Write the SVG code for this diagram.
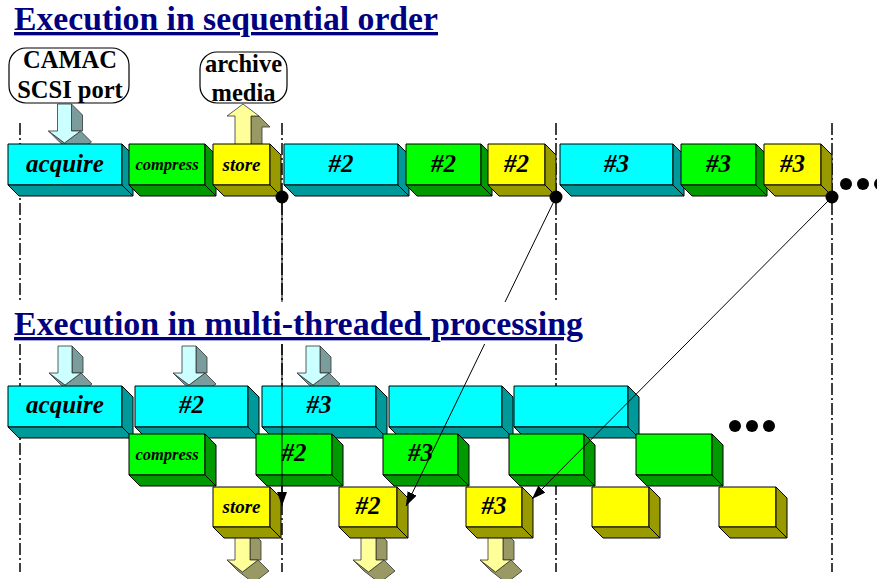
<svg xmlns="http://www.w3.org/2000/svg" xmlns:xlink="http://www.w3.org/1999/xlink" width="877" height="579" viewBox="0 0 877 579">
  <style>
    .face { stroke: #000; stroke-width: 1; stroke-linejoin: round; }
    .cy { fill: #00ffff; } .cyd { fill: #009999; }
    .gr { fill: #00ff00; } .grd { fill: #009900; }
    .ye { fill: #ffff00; } .yed { fill: #999900; }
    .lbl { font-family: "Liberation Serif", "Times New Roman", serif; font-weight: bold; font-style: italic; text-anchor: middle; fill: #000; }
    .big { font-size: 25px; }
    .cmp { font-size: 16.5px; }
    .sto { font-size: 19px; }
    .head { font-family: "Liberation Serif", "Times New Roman", serif; font-weight: bold; font-size: 33.5px; fill: #000080; text-decoration: underline; }
    .tag { font-family: "Liberation Serif", "Times New Roman", serif; font-weight: bold; font-size: 24.5px; text-anchor: middle; fill: #000; }
    .bubble { fill: #fff; stroke: #000; stroke-width: 1.2; }
    .tl { fill: none; stroke: #000; stroke-width: 1.5; stroke-dasharray: 12 3 2 3; }
    .conn { fill: none; stroke: #000; stroke-width: 1; }
    .af { stroke: #333; stroke-width: 0.8; stroke-linejoin: round; }
    .cyl { fill: #ccffff; } .cyk { fill: #7a9c9c; }
    .yel { fill: #ffff99; } .yek { fill: #999966; }
  </style>
  <defs>
    <marker id="tip" markerWidth="14" markerHeight="10" refX="14" refY="5" orient="auto" markerUnits="userSpaceOnUse">
      <path d="M0,0 L14,5 L0,10 Z" fill="#000"/>
    </marker>
    <!-- input arrow (data coming in), drawn with its shaft's top-left corner at 0,0 -->
    <g id="inArrow">
      <polygon class="af cyk" points="14,0 25,11 25,27 14,27"/>
      <polygon class="af cyk" points="23,27 34,38 18,50 2,38 -9,27 7,39"/>
      <polygon class="af cyl" points="0,0 14,0 14,27 23,27 7,39 -9,27 0,27"/>
    </g>
    <!-- output arrow (data written out) -->
    <g id="outArrow">
      <polygon class="af yek" points="15,0 26,11 26,30 15,30"/>
      <polygon class="af yek" points="23,30 34,41 18.5,53 3,41 -8,30 7.5,42"/>
      <polygon class="af yel" points="0,0 15,0 15,30 23,30 7.5,42 -8,30 0,30"/>
    </g>
  </defs>

  <rect width="877" height="579" fill="#fff"/>

  <!-- time markers -->
  <g id="timelines">
    <line class="tl" x1="20" y1="123" x2="20" y2="572"/>
    <line class="tl" x1="282" y1="123" x2="282" y2="572"/>
    <line class="tl" x1="556" y1="123" x2="556" y2="572"/>
    <line class="tl" x1="832" y1="123" x2="832" y2="572"/>
  </g>

  <!-- title of the sequential part -->
  <text class="head" x="14" y="30" textLength="424" lengthAdjust="spacingAndGlyphs">Execution in sequential order</text>

  <!-- I/O endpoints -->
  <g id="camac">
    <rect class="bubble" x="9" y="48" width="120" height="55" rx="17"/>
    <text class="tag" x="70" y="68">CAMAC</text>
    <text class="tag" x="70" y="98">SCSI port</text>
  </g>
  <g id="archive">
    <rect class="bubble" x="200" y="52" width="87" height="51" rx="17"/>
    <text class="tag" x="243.5" y="72">archive</text>
    <text class="tag" x="243.5" y="101">media</text>
  </g>

  <!-- transfer arrows of the sequential run -->
  <g id="seq-in"><use xlink:href="#inArrow" transform="translate(57.5,104)"/></g>
  <g id="seq-out">
    <polygon class="af yek" points="259,116 270,127 262,127 262,161 251,150 251,116"/>
    <polygon class="af yel" points="243,104 259,116 251,116 251,150 235,150 235,116 227,116"/>
  </g>

  <!-- sequential run: one step after the other -->
  <g id="s-acquire">
    <rect class="face cy" x="8" y="144" width="114" height="41"/>
    <polygon class="face cyd" points="122,144 133,155 133,196 122,185"/>
    <polygon class="face cyd" points="8,185 122,185 133,196 19,196"/>
    <text class="lbl big" x="65" y="172">acquire</text>
  </g>
  <g id="s-compress">
    <rect class="face gr" x="129" y="144" width="76" height="41"/>
    <polygon class="face grd" points="205,144 216,155 216,196 205,185"/>
    <polygon class="face grd" points="129,185 205,185 216,196 140,196"/>
    <text class="lbl cmp" x="167" y="170">compress</text>
  </g>
  <g id="s-store">
    <rect class="face ye" x="213" y="144" width="57" height="41"/>
    <polygon class="face yed" points="270,144 281,155 281,196 270,185"/>
    <polygon class="face yed" points="213,185 270,185 281,196 224,196"/>
    <text class="lbl sto" x="241.5" y="171">store</text>
  </g>
  <g id="s-acquire2">
    <rect class="face cy" x="284" y="144" width="114" height="41"/>
    <polygon class="face cyd" points="398,144 409,155 409,196 398,185"/>
    <polygon class="face cyd" points="284,185 398,185 409,196 295,196"/>
    <text class="lbl big" x="341" y="172">#2</text>
  </g>
  <g id="s-compress2">
    <rect class="face gr" x="406" y="144" width="75" height="41"/>
    <polygon class="face grd" points="481,144 492,155 492,196 481,185"/>
    <polygon class="face grd" points="406,185 481,185 492,196 417,196"/>
    <text class="lbl big" x="443.5" y="172">#2</text>
  </g>
  <g id="s-store2">
    <rect class="face ye" x="488" y="144" width="57" height="41"/>
    <polygon class="face yed" points="545,144 556,155 556,196 545,185"/>
    <polygon class="face yed" points="488,185 545,185 556,196 499,196"/>
    <text class="lbl big" x="516.5" y="172">#2</text>
  </g>
  <g id="s-acquire3">
    <rect class="face cy" x="560" y="144" width="113" height="41"/>
    <polygon class="face cyd" points="673,144 684,155 684,196 673,185"/>
    <polygon class="face cyd" points="560,185 673,185 684,196 571,196"/>
    <text class="lbl big" x="616.5" y="172">#3</text>
  </g>
  <g id="s-compress3">
    <rect class="face gr" x="681" y="144" width="75" height="41"/>
    <polygon class="face grd" points="756,144 767,155 767,196 756,185"/>
    <polygon class="face grd" points="681,185 756,185 767,196 692,196"/>
    <text class="lbl big" x="718.5" y="172">#3</text>
  </g>
  <g id="s-store3">
    <rect class="face ye" x="764" y="144" width="57" height="41"/>
    <polygon class="face yed" points="821,144 832,155 832,196 821,185"/>
    <polygon class="face yed" points="764,185 821,185 832,196 775,196"/>
    <text class="lbl big" x="792.5" y="172">#3</text>
  </g>
  <g id="s-more" fill="#000">
    <circle cx="846" cy="184" r="6"/>
    <circle cx="863" cy="184" r="6"/>
    <circle cx="880" cy="184" r="6"/>
  </g>

  <!-- transfer arrows of the threaded run -->
  <g id="m-in">
    <use xlink:href="#inArrow" transform="translate(58,346)"/>
    <use xlink:href="#inArrow" transform="translate(182,346)"/>
    <use xlink:href="#inArrow" transform="translate(306,346)"/>
  </g>
  <g id="m-out">
    <use xlink:href="#outArrow" transform="translate(235,530)"/>
    <use xlink:href="#outArrow" transform="translate(361,530)"/>
    <use xlink:href="#outArrow" transform="translate(488,530)"/>
  </g>

  <!-- threaded run: acquisition thread -->
  <g id="m-acquire">
    <rect class="face cy" x="8" y="386" width="114" height="41"/>
    <polygon class="face cyd" points="122,386 133,397 133,438 122,427"/>
    <polygon class="face cyd" points="8,427 122,427 133,438 19,438"/>
    <text class="lbl big" x="65" y="413">acquire</text>
  </g>
  <g id="m-acquire2">
    <rect class="face cy" x="135" y="386" width="113" height="41"/>
    <polygon class="face cyd" points="248,386 259,397 259,438 248,427"/>
    <polygon class="face cyd" points="135,427 248,427 259,438 146,438"/>
    <text class="lbl big" x="191.5" y="413">#2</text>
  </g>
  <g id="m-acquire3">
    <rect class="face cy" x="262" y="386" width="114" height="41"/>
    <polygon class="face cyd" points="376,386 387,397 387,438 376,427"/>
    <polygon class="face cyd" points="262,427 376,427 387,438 273,438"/>
    <text class="lbl big" x="319" y="413">#3</text>
  </g>
  <g id="m-acquire4">
    <rect class="face cy" x="389" y="386" width="113" height="41"/>
    <polygon class="face cyd" points="502,386 513,397 513,438 502,427"/>
    <polygon class="face cyd" points="389,427 502,427 513,438 400,438"/>
  </g>
  <g id="m-acquire5">
    <rect class="face cy" x="514" y="386" width="114" height="41"/>
    <polygon class="face cyd" points="628,386 639,397 639,438 628,427"/>
    <polygon class="face cyd" points="514,427 628,427 639,438 525,438"/>
  </g>

  <!-- threaded run: compression thread -->
  <g id="m-compress">
    <rect class="face gr" x="129" y="434" width="76" height="41"/>
    <polygon class="face grd" points="205,434 216,445 216,486 205,475"/>
    <polygon class="face grd" points="129,475 205,475 216,486 140,486"/>
    <text class="lbl cmp" x="167" y="460">compress</text>
  </g>
  <g id="m-compress2">
    <rect class="face gr" x="256" y="434" width="76" height="41"/>
    <polygon class="face grd" points="332,434 343,445 343,486 332,475"/>
    <polygon class="face grd" points="256,475 332,475 343,486 267,486"/>
    <text class="lbl big" x="294" y="461">#2</text>
  </g>
  <g id="m-compress3">
    <rect class="face gr" x="383" y="434" width="75" height="41"/>
    <polygon class="face grd" points="458,434 469,445 469,486 458,475"/>
    <polygon class="face grd" points="383,475 458,475 469,486 394,486"/>
    <text class="lbl big" x="420.5" y="461">#3</text>
  </g>
  <g id="m-compress4">
    <rect class="face gr" x="509" y="434" width="75" height="41"/>
    <polygon class="face grd" points="584,434 595,445 595,486 584,475"/>
    <polygon class="face grd" points="509,475 584,475 595,486 520,486"/>
  </g>
  <g id="m-compress5">
    <rect class="face gr" x="636" y="434" width="76" height="41"/>
    <polygon class="face grd" points="712,434 723,445 723,486 712,475"/>
    <polygon class="face grd" points="636,475 712,475 723,486 647,486"/>
  </g>

  <!-- threaded run: storage thread -->
  <g id="m-store">
    <rect class="face ye" x="213" y="487" width="57" height="40"/>
    <polygon class="face yed" points="270,487 281,498 281,538 270,527"/>
    <polygon class="face yed" points="213,527 270,527 281,538 224,538"/>
    <text class="lbl sto" x="241.5" y="513">store</text>
  </g>
  <g id="m-store2">
    <rect class="face ye" x="339" y="487" width="58" height="40"/>
    <polygon class="face yed" points="397,487 408,498 408,538 397,527"/>
    <polygon class="face yed" points="339,527 397,527 408,538 350,538"/>
    <text class="lbl big" x="368" y="514">#2</text>
  </g>
  <g id="m-store3">
    <rect class="face ye" x="466" y="487" width="56" height="40"/>
    <polygon class="face yed" points="522,487 533,498 533,538 522,527"/>
    <polygon class="face yed" points="466,527 522,527 533,538 477,538"/>
    <text class="lbl big" x="494" y="514">#3</text>
  </g>
  <g id="m-store4">
    <rect class="face ye" x="592" y="487" width="57" height="40"/>
    <polygon class="face yed" points="649,487 660,498 660,538 649,527"/>
    <polygon class="face yed" points="592,527 649,527 660,538 603,538"/>
  </g>
  <g id="m-store5">
    <rect class="face ye" x="719" y="487" width="57" height="40"/>
    <polygon class="face yed" points="776,487 787,498 787,538 776,527"/>
    <polygon class="face yed" points="719,527 776,527 787,538 730,538"/>
  </g>
  <g id="m-more" fill="#000">
    <circle cx="735" cy="426" r="6"/>
    <circle cx="752" cy="426" r="6"/>
    <circle cx="769" cy="426" r="6"/>
  </g>

  <!-- completion points of the sequential run mapped onto the threaded run -->
  <g id="connectors">
    <line class="conn" x1="282" y1="197" x2="282" y2="506" marker-end="url(#tip)"/>
    <line class="conn" x1="556" y1="197" x2="406" y2="506" marker-end="url(#tip)"/>
    <line class="conn" x1="832" y1="197" x2="532" y2="499" marker-end="url(#tip)"/>
    <circle cx="282" cy="197" r="6.5" fill="#000"/>
    <circle cx="556" cy="197" r="6.5" fill="#000"/>
    <circle cx="832" cy="197" r="6.5" fill="#000"/>
  </g>

  <!-- title of the threaded part, on a white band -->
  <rect x="10" y="302" width="580" height="42" fill="#fff"/>
  <text class="head" x="14" y="335" textLength="569" lengthAdjust="spacingAndGlyphs">Execution in multi-threaded processing</text>
</svg>
